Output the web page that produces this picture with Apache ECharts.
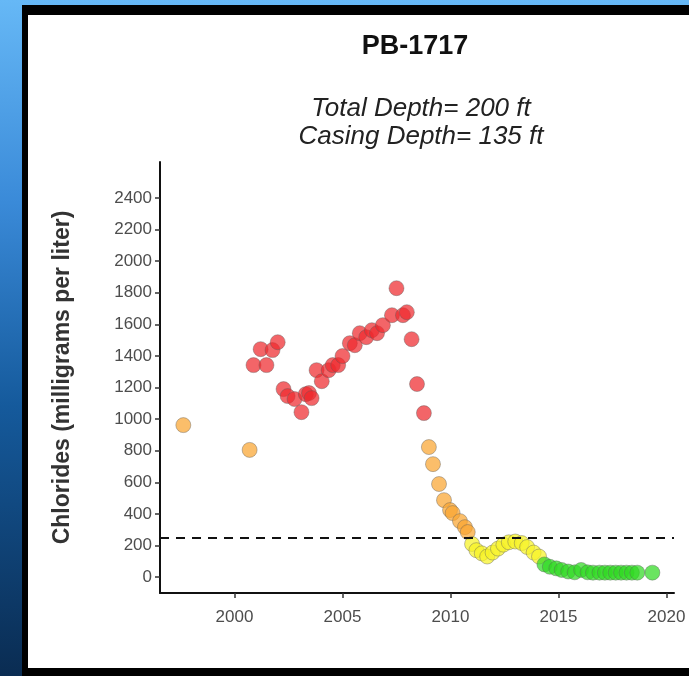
<!DOCTYPE html>
<html>
<head>
<meta charset="utf-8">
<script src="https://cdn.jsdelivr.net/npm/echarts@6/dist/echarts.min.js"></script>
<style>
html,body{margin:0;padding:0;width:689px;height:676px;overflow:hidden;}
body{background:linear-gradient(180deg,#66b8f6 0%,#3a8ad8 30%,#155a9c 60%,#0a2c52 100%);position:relative;}
#frame{position:absolute;left:22px;top:5px;width:700px;height:671px;background:#000;}
#chart{position:absolute;left:28px;top:15px;width:661px;height:653px;background:#fff;}
</style>
</head>
<body>
<div id="frame"></div>
<div id="chart"></div>
<script>
// tick labels
const yTicks = [0,200,400,600,800,1000,1200,1400,1600,1800,2000,2200,2400];
const xTicks = [2000,2005,2010,2015,2020];

// series: [decimal year, chlorides mg/L]
const redPts = [
  [2000.88,1342],[2001.48,1342],[2001.21,1443],[2001.76,1437],[2002.0,1487],
  [2002.27,1190],[2002.46,1146],[2002.78,1127],[2003.1,1044],[2003.3,1158],
  [2003.45,1165],[2003.57,1133],[2003.8,1310],[2004.04,1240],[2004.36,1310],
  [2004.55,1342],[2004.8,1342],[2005.0,1399],[2005.34,1481],[2005.57,1468],
  [2005.8,1544],[2006.1,1519],[2006.36,1563],[2006.6,1544],[2006.87,1595],
  [2007.29,1658],[2007.5,1829],[2007.8,1658],[2007.98,1677],[2008.2,1506],
  [2008.45,1222],[2008.77,1038]
];
const orangePts = [
  [1997.63,962],[2000.7,805],
  [2009.0,823],[2009.19,715],[2009.47,589],[2009.7,487],[2009.98,424],
  [2010.1,405],[2010.44,354],[2010.67,316],[2010.8,285]
];
const yellowPts = [
  [2011.0,209],[2011.2,170],[2011.45,150],[2011.7,130],[2011.95,155],
  [2012.2,180],[2012.45,205],[2012.7,220],[2013.0,225],[2013.3,215],
  [2013.55,190],[2013.85,155],[2014.1,130]
];
const greenPts = [
  [2014.35,80],[2014.6,65],[2014.9,55],[2015.15,45],[2015.45,35],[2015.75,30],
  [2016.05,45],[2016.35,30],[2016.6,28],[2016.9,28],[2017.15,28],[2017.4,28],
  [2017.65,28],[2017.9,28],[2018.15,28],[2018.4,28],[2018.65,28],[2019.35,28]
];
const thresholdValue = 250;

const chart = echarts.init(document.getElementById('chart'), null, {renderer:'canvas'});
const ox = 28, oy = 15; // chart div offset in page
function sc(color, data){
  return {
    type:'scatter', data:data, symbolSize:15,
    itemStyle:{color:color, opacity:0.72, borderColor:'rgba(90,90,90,0.55)', borderWidth:1}
  };
}
const series = [
  sc('#ef2a2e', redPts),
  sc('#f9a530', orangePts),
  sc('#f6f224', yellowPts),
  sc('#30da22', greenPts)
];
series[0].markLine = {
  silent:true, symbol:'none', label:{show:false},
  lineStyle:{color:'#111', type:[9,7], width:2},
  data:[{yAxis:thresholdValue}]
};
const fam = 'Liberation Sans, Arial, sans-serif';
chart.setOption({
  animation:false,
  title:[
    {text:'PB-1717', left:410-ox, top:28-oy, textAlign:'center',
     textStyle:{fontFamily:fam, fontWeight:'bold', fontSize:27, color:'#111'}},
    {text:'Total Depth= 200 ft\nCasing Depth= 135 ft', left:416-ox, top:90-oy, textAlign:'center',
     textStyle:{fontFamily:fam, fontStyle:'italic', fontWeight:'normal', fontSize:26, lineHeight:28, color:'#222'}}
  ],
  grid:{left:160-ox, right:15, top:162-oy, bottom:83-8, containLabel:false},
  xAxis:{
    type:'value', min:1996.55, max:2020.35,
    splitLine:{show:false},
    axisLine:{show:true, onZero:false, lineStyle:{color:'#111', width:2}},
    axisTick:{show:true, length:5, lineStyle:{color:'#333', width:1.5}, customValues:xTicks},
    axisLabel:{color:'#4d4d4d', fontSize:17, fontFamily:fam, margin:16, customValues:xTicks,
               formatter:function(v){return String(v);}}
  },
  yAxis:{
    type:'value', min:-101, max:2628,
    name:'Chlorides (milligrams per liter)', nameLocation:'middle', nameGap:86,
    nameTextStyle:{color:'#333', fontSize:23, fontWeight:'bold', fontFamily:fam},
    splitLine:{show:false},
    axisLine:{show:true, onZero:false, lineStyle:{color:'#111', width:2}},
    axisTick:{show:true, length:5, lineStyle:{color:'#333', width:1.5}, customValues:yTicks},
    axisLabel:{color:'#4d4d4d', fontSize:17, fontFamily:fam, margin:8, customValues:yTicks,
               formatter:function(v){return String(v);}}
  },
  series:series
});
</script>
</body>
</html>
